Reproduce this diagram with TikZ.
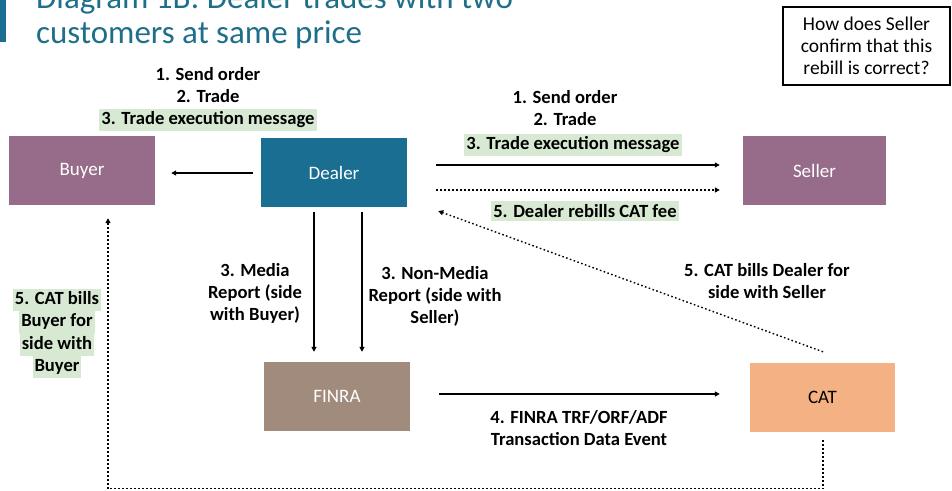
\documentclass[tikz,border=0pt]{standalone}
\usepackage{fontspec}
\setmainfont{Carlito}
\usetikzlibrary{arrows.meta,calc}
\definecolor{buyerc}{HTML}{966C8A}
\definecolor{dealerc}{HTML}{1A6E92}
\definecolor{finrac}{HTML}{A08B7C}
\definecolor{catc}{HTML}{F4B183}
\definecolor{titlec}{HTML}{1F6F8B}
\definecolor{hlg}{HTML}{D8E9D3}
\newcommand{\hlline}[1]{{\setlength{\fboxsep}{0pt}\colorbox{hlg}{\strut\hspace{2pt}#1\hspace{2pt}}}}
\begin{document}
\begin{tikzpicture}[x=1pt,y=-1pt,
  box/.style={minimum width=146pt,minimum height=69pt,inner sep=0pt,font=\fontsize{19}{22}\selectfont,text=white},
  lbl/.style={font=\bfseries\fontsize{18.6}{22}\selectfont,align=center,inner sep=0pt},
  hl/.style={fill=hlg,inner xsep=2pt,inner ysep=3pt},
  arr/.style={line width=1.4pt,-{Triangle[length=5pt,width=5pt]}},
  dotarr/.style={arr,dash pattern=on 1.6pt off 2.4pt},
  dotline/.style={line width=1.4pt,dash pattern=on 1.6pt off 2.4pt}
]
\useasboundingbox (0,0) rectangle (952,490);
\clip (0,0) rectangle (952,490);

% title
\fill[dealerc] (0,0) rectangle (6,42);
\node[anchor=base west,inner sep=0pt,text=titlec,font=\fontsize{33}{35}\selectfont] (t1) at (36,8) {Diagram 1B: Dealer trades with two};
\node[anchor=base west,inner sep=0pt,text=titlec,font=\fontsize{33}{35}\selectfont] (t2) at (36,43) {customers at same price};

% question box
\node[draw,line width=1.3pt,minimum width=167pt,minimum height=78pt,inner sep=0pt,align=center,font=\fontsize{19.5}{22}\selectfont] (q) at (866.5,46) {How does Seller\\confirm that this\\rebill is correct?};

% boxes
\node[box,fill=buyerc] (buyer) at (82,170.5) {Buyer};
\node[box,fill=dealerc] (dealer) at (334,172.5) {Dealer};
\node[box,fill=buyerc,minimum width=143pt] (seller) at (814.5,170.5) {Seller};
\node[box,fill=finrac] (finra) at (337,396.5) {FINRA};
\node[box,fill=catc,text=black,minimum width=145pt] (cat) at (822.5,397.5) {CAT};

% connectors
\draw[arr] ($(dealer.west)+(-8,0.5)$) -- ($(buyer.east)+(16,2.5)$);
\draw[arr] ($(dealer.east)+(29,-7.5)$) -- ($(seller.west)+(-23,-5.5)$);
\draw[dotarr] ($(dealer.east)+(29,17.5)$) -- ($(seller.west)+(-23,19.5)$);
\draw[dotarr] ($(cat.north)+(0.5,-11)$) -- ($(dealer.east)+(31,38.5)$);
\draw[arr] ($(dealer.south)+(-20,5)$) -- ($(finra.north)+(-23,-10)$);
\draw[arr] ($(dealer.south)+(28,5)$) -- ($(finra.north)+(25,-10)$);
\draw[arr] ($(finra.east)+(29,-2.5)$) -- ($(cat.west)+(-30,-3.5)$);
\coordinate (br) at ($(cat.south)+(0.5,56.5)$);
\coordinate (bl) at ($(buyer.south)+(26,283.5)$);
\draw[dotline] ($(cat.south)+(0.5,8)$) -- (br) -- (bl);
\draw[dotarr] (bl) -- ($(buyer.south)+(26,13)$);

% labels
\node[lbl] (l1) at (208,99) {1. Send order\\2. Trade\\\hlline{3. Trade execution message}};
\node[lbl] (l2) at (565,108.5) {1. Send order\\2. Trade};
\node[lbl,hl] (l3) at (573,145) {3. Trade execution message};
\node[lbl,hl] (l4) at (585,211) {5. Dealer rebills CAT fee};
\node[lbl] (l5) at (255,293) {3. Media\\Report (side\\with Buyer)};
\node[lbl] (l6) at (435,296) {3. Non-Media\\Report (side with\\Seller)};
\node[lbl,font=\bfseries\fontsize{18.6}{22.3}\selectfont] (l7) at (57,333.5) {\hlline{5. CAT bills}\\\hlline{Buyer for}\\\hlline{side with}\\\hlline{Buyer}};
\node[lbl] (l8) at (767,281) {5. CAT bills Dealer for\\side with Seller};
\node[lbl] (l9) at (579,428) {4. FINRA TRF/ORF/ADF\\Transaction Data Event};
\end{tikzpicture}
\end{document}
